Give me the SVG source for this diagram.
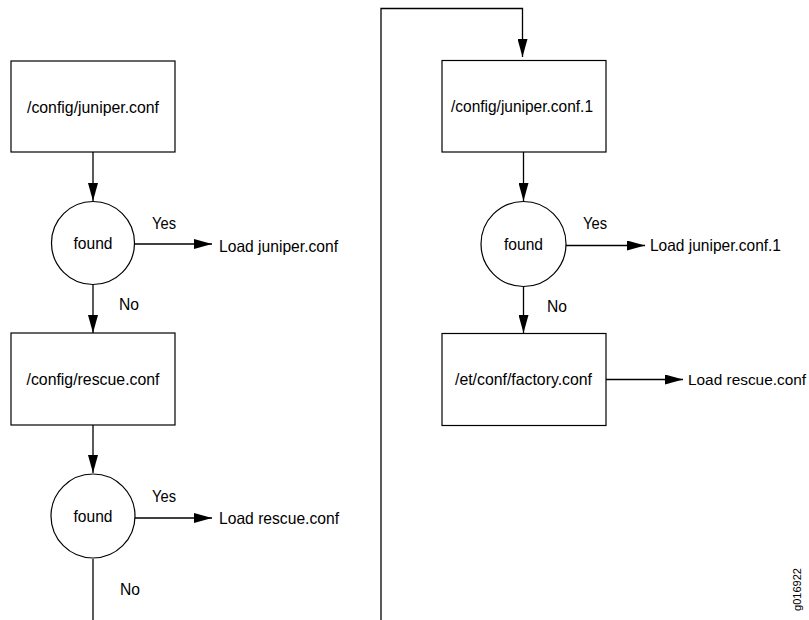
<svg xmlns="http://www.w3.org/2000/svg" width="809" height="620" viewBox="0 0 809 620">
<defs>
<marker id="arr" markerUnits="userSpaceOnUse" markerWidth="18" markerHeight="10" refX="18" refY="5" orient="auto">
<path d="M0,0 L18,5 L0,10 Z" fill="#000"/>
</marker>
<style>
.box{fill:#fff;stroke:#000;stroke-width:1.2}
.dec{fill:#fff;stroke:#000;stroke-width:1.2}
.t{font-family:"Liberation Sans",Arial,sans-serif;font-size:16.5px;fill:#000}
.c{text-anchor:middle}
.ln{fill:none;stroke:#000;stroke-width:1.3}
.lnA{fill:none;stroke:#000;stroke-width:1.3;marker-end:url(#arr)}
</style>
</defs>
<rect width="809" height="620" fill="#fff"/>
<g id="connectors">
<line class="lnA" x1="93" y1="152" x2="93" y2="201"/>
<line class="lnA" x1="135" y1="244" x2="212" y2="244"/>
<line class="lnA" x1="93" y1="285" x2="93" y2="333"/>
<line class="lnA" x1="93" y1="425" x2="93" y2="473"/>
<line class="lnA" x1="135" y1="518" x2="212" y2="518"/>
<line class="ln" x1="93" y1="559" x2="93" y2="620"/>
<polyline class="lnA" points="381,620 381,8.5 522.5,8.5 522.5,57"/>
<line class="lnA" x1="523.5" y1="152" x2="523.5" y2="201"/>
<line class="lnA" x1="566" y1="245.5" x2="645" y2="245.5"/>
<line class="lnA" x1="523.5" y1="286" x2="523.5" y2="333"/>
<line class="lnA" x1="606" y1="379.5" x2="683" y2="379.5"/>
<text class="t" x="152" y="229" textLength="24" lengthAdjust="spacingAndGlyphs">Yes</text>
<text class="t" x="119" y="310" textLength="20" lengthAdjust="spacingAndGlyphs">No</text>
<text class="t" x="152" y="502" textLength="24" lengthAdjust="spacingAndGlyphs">Yes</text>
<text class="t" x="120" y="595" textLength="20" lengthAdjust="spacingAndGlyphs">No</text>
<text class="t" x="583" y="229" textLength="24" lengthAdjust="spacingAndGlyphs">Yes</text>
<text class="t" x="547" y="312" textLength="20" lengthAdjust="spacingAndGlyphs">No</text>
</g>
<g id="box-juniper">
<rect class="box" x="11" y="61" width="164" height="91"/>
<text class="t c" x="93" y="113" textLength="132" lengthAdjust="spacingAndGlyphs">/config/juniper.conf</text>
</g>
<g id="found-1">
<circle class="dec" cx="93" cy="243" r="41.5"/>
<text class="t c" x="93" y="249" textLength="39" lengthAdjust="spacingAndGlyphs">found</text>
</g>
<g id="load-juniper">
<text class="t" x="219" y="252" textLength="119" lengthAdjust="spacingAndGlyphs">Load juniper.conf</text>
</g>
<g id="box-rescue">
<rect class="box" x="11" y="333" width="164" height="92"/>
<text class="t c" x="93" y="385" textLength="133" lengthAdjust="spacingAndGlyphs">/config/rescue.conf</text>
</g>
<g id="found-2">
<circle class="dec" cx="93" cy="516" r="42"/>
<text class="t c" x="93" y="522" textLength="39" lengthAdjust="spacingAndGlyphs">found</text>
</g>
<g id="load-rescue">
<text class="t" x="219" y="524" textLength="120" lengthAdjust="spacingAndGlyphs">Load rescue.conf</text>
</g>
<g id="box-juniper1">
<rect class="box" x="442" y="60.5" width="164" height="91.5"/>
<text class="t c" x="522" y="112" textLength="142" lengthAdjust="spacingAndGlyphs">/config/juniper.conf.1</text>
</g>
<g id="found-3">
<circle class="dec" cx="523.5" cy="244" r="42.5"/>
<text class="t c" x="523.5" y="250" textLength="39" lengthAdjust="spacingAndGlyphs">found</text>
</g>
<g id="load-juniper1">
<text class="t" x="650" y="251" textLength="131" lengthAdjust="spacingAndGlyphs">Load juniper.conf.1</text>
</g>
<g id="box-factory">
<rect class="box" x="442" y="333.5" width="164" height="92"/>
<text class="t c" x="523.5" y="385" textLength="137" lengthAdjust="spacingAndGlyphs">/et/conf/factory.conf</text>
</g>
<g id="load-rescue-2">
<text class="t" style="font-size:15.4px" x="688" y="385">Load rescue.conf</text>
</g>
<text class="t" style="font-size:11px" transform="translate(801,611) rotate(-90)" textLength="43" lengthAdjust="spacingAndGlyphs">g016922</text>
</svg>
